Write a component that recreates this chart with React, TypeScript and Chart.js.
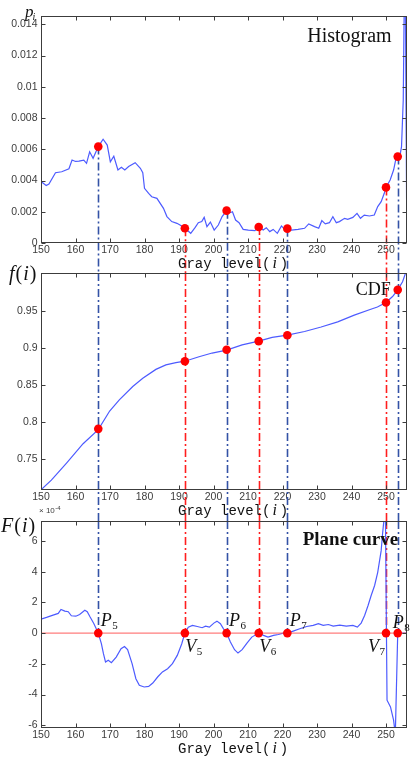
import React, { useEffect, useRef } from "react";
import { Chart, registerables } from "chart.js";

Chart.register(...registerables);

// ---------------- data ----------------
const X_MIN = 150;
const X_MAX = 256;
const xTicks = [150, 160, 170, 180, 190, 200, 210, 220, 230, 240, 250];

// Histogram p_i
const histX = [
  150, 151.5, 152.3, 154.2, 156, 158.1, 159, 160, 161, 162.4, 163.2, 164.1, 165.1, 166.6, 168, 169.2,
  170.1, 171.1, 172.3, 173.3, 174.3, 175.4, 177.3, 178.8, 179.5, 180, 181.2, 182.1, 183.6, 185.5, 186.5,
  187.9, 189.4, 190.3, 191.7, 192.3, 193.4, 194.7, 195.6, 196.6, 197.3, 198.1, 199.1, 200.2, 201.4, 202.5,
  203.8, 204.8, 205.5, 206.4, 207.4, 208.6, 210.1, 212, 213.1, 214.4, 215.3, 216.3, 217.3, 218.5, 219.7,
  220.6, 221.4, 222.6, 224.5, 226.4, 227.6, 229.3, 230.5, 231.4, 232.4, 233.6, 234.6, 235.6, 236.5, 238,
  238.9, 240.4, 241.6, 242.6, 243.7, 245.2, 246.6, 247.6, 248.6, 249.5, 250, 251.2, 252.2, 252.9, 253.4,
  254, 254.5, 255, 255.5, 256,
];
const histY = [
  0.00393, 0.00368, 0.00378, 0.0045, 0.00456, 0.00475, 0.00531, 0.00522, 0.00524, 0.00531, 0.0051, 0.00584,
  0.00542, 0.00617, 0.00664, 0.00627, 0.0052, 0.00555, 0.00467, 0.00485, 0.00467, 0.00489, 0.00514, 0.00478,
  0.0045, 0.0035, 0.00318, 0.00296, 0.00286, 0.00222, 0.00169, 0.00137, 0.00126, 0.00115, 0.00094, 0.00083,
  0.00062, 0.001, 0.0013, 0.00137, 0.00164, 0.00105, 0.00134, 0.00083, 0.00115, 0.00169, 0.00207, 0.00194,
  0.002, 0.00147, 0.0013, 0.00087, 0.00083, 0.00079, 0.00102, 0.00083, 0.00098, 0.00073, 0.00087, 0.00062,
  0.00109, 0.00087, 0.00092, 0.00083, 0.00087, 0.00094, 0.00122, 0.00105, 0.00094, 0.00143, 0.00122, 0.0013,
  0.00169, 0.0013, 0.00137, 0.00158, 0.00152, 0.00164, 0.0019, 0.00158, 0.00179, 0.00173, 0.00179, 0.00233,
  0.00265, 0.00318, 0.00356, 0.00403, 0.00467, 0.00542, 0.00553, 0.00553, 0.00617, 0.00915, 0.02, 0.0015,
];
const histTicks = [0, 0.002, 0.004, 0.006, 0.008, 0.01, 0.012, 0.014];

// CDF f(i)
const cdfX = [
  150, 153, 157.4, 162.2, 166.6, 169.9, 172.7, 176.6, 179.5, 183.3, 186.2, 189.1, 191.7, 195.8, 199.6,
  203.8, 208.3, 213.1, 217, 221.4, 226.4, 231.2, 236, 240.8, 245.6, 247.5, 250, 251.9, 253.4, 254.8, 256,
];
const cdfY = [
  0.709, 0.722, 0.745, 0.771, 0.79, 0.815, 0.83, 0.848, 0.859, 0.871, 0.877, 0.88, 0.882, 0.888, 0.893,
  0.897, 0.904, 0.909, 0.914, 0.917, 0.922, 0.928, 0.935, 0.944, 0.952, 0.955, 0.961, 0.969, 0.978, 0.989,
  1.005,
];
const cdfTicks = [0.75, 0.8, 0.85, 0.9, 0.95];

// Plane curve F(i) (x 10^-4)
const planeX = [
  150, 151.6, 153.5, 155, 155.8, 156.9, 157.9, 158.8, 160.1, 161.2, 162.7, 163.4, 164.2, 165.3, 166.6,
  167.5, 168.1, 168.7, 169.5, 170.4, 171.8, 173.2, 174.2, 175.1, 176.4, 177.5, 178.5, 179.9, 181.2, 182.4,
  183.8, 185.2, 186.7, 188.1, 189.5, 190.8, 191.7, 192.7, 193.9, 195.3, 196.7, 197.7, 198.8, 200.1, 201,
  202, 202.9, 203.8, 204.9, 206.1, 207.1, 208.3, 209.7, 211.1, 213.1, 214.5, 215.8, 217.4, 218.8, 220.2,
  221.4, 223.1, 225, 227, 228.9, 230.4, 231.8, 233.3, 234.7, 236.6, 238.5, 240.4, 241.7, 242.8, 243.8,
  244.8, 245.7, 246.7, 247.6, 248.6, 249, 249.5, 249.8, 250.3, 251.3, 252.2, 252.7, 253.4, 256,
];
const planeY = [
  0.91, 1.02, 1.17, 1.28, 1.54, 1.43, 1.39, 1.13, 1.1, 1.21, 1.49, 1.39, 1.06, 0.63, 0, -0.69, -1.34, -1.88,
  -1.77, -1.93, -1.56, -1.02, -0.87, -1.08, -1.99, -2.97, -3.4, -3.51, -3.47, -3.25, -2.86, -2.53, -2.32,
  -1.99, -1.45, -0.69, 0, 0.39, 0.5, 0.43, 0.35, 0.45, 0.39, 0.65, 0.78, 0.61, 0.28, 0, -0.58, -1.08, -1.3,
  -1.08, -0.65, -0.26, 0, -0.15, -0.26, -0.15, -0.09, 0, 0, 0.13, 0.28, 0.43, 0.5, 0.61, 0.5, 0.56, 0.45,
  0.52, 0.45, 0.5, 0.39, 0.65, 1.15, 1.8, 2.45, 3.1, 3.96, 5.37, 6.45, 7.6, 8.6, -4.37, -4.81, -5.67, -6.6,
  0, 0,
];
const planeTicks = [-6, -4, -2, 0, 2, 4, 6];

// Key gray levels (peaks P / valleys V)
const keyX = [166.6, 191.7, 203.8, 213.1, 221.4, 250.0, 253.4];
const keyHist = [0.00617, 0.00094, 0.00207, 0.00102, 0.00092, 0.00356, 0.00553];
const keyCdf = [0.791, 0.882, 0.8975, 0.909, 0.917, 0.961, 0.978];
const keyPlane = [0, 0, 0, 0, 0, 0, 0];
const keyLetter = ["P", "V", "P", "V", "P", "V", "P"];
const keySub = ["5", "5", "6", "6", "7", "7", "8"];

// ---------------- layout / style ----------------
const W = 411;
const H = 760;
const PLOT_LEFT = 41;
const PLOT_RIGHT = 408.5;
const XAXIS_H = 20;
const PANELS = [
  { top: 16, bottom: 243, yMin: 0, yMax: 0.01453 },
  { top: 273, bottom: 490, yMin: 0.7087, yMax: 1.0007 },
  { top: 521, bottom: 728, yMin: -6.18, yMax: 7.3 },
];

const SERIF = '"Liberation Serif", "Times New Roman", serif';
const SANS = '"Liberation Sans", Arial, sans-serif';
const MONO = '"Liberation Mono", "Courier New", monospace';
const AXIS_COLOR = "#3c3c3c";
const TICK_COLOR = "#3c3c3c";
const CURVE_COLOR = "#4d5bff";
const DOT_COLOR = "#ff0000";
const BLUE_DASH = "#3352a6";
const RED_DASH = "#ff1e1e";

type Part = { t: string; font: string; dx?: number; dy?: number };

function drawParts(ctx: CanvasRenderingContext2D, parts: Part[], x: number, y: number) {
  let cx = x;
  for (const p of parts) {
    ctx.font = p.font;
    const dx = p.dx || 0;
    ctx.fillText(p.t, cx + dx, y + (p.dy || 0));
    cx += dx + ctx.measureText(p.t).width;
  }
}

function makeChart(canvas: HTMLCanvasElement, idx: number) {
  const panel = PANELS[idx];
  const curveX = idx === 0 ? histX : idx === 1 ? cdfX : planeX;
  const curveY = idx === 0 ? histY : idx === 1 ? cdfY : planeY;
  const keyY = idx === 0 ? keyHist : idx === 1 ? keyCdf : keyPlane;
  const yTicks = idx === 0 ? histTicks : idx === 1 ? cdfTicks : planeTicks;

  const datasets: any[] = [
    {
      data: keyX.map((x, i) => ({ x, y: keyY[i] })),
      backgroundColor: DOT_COLOR,
      borderWidth: 0,
      pointRadius: 4.3,
      showLine: false,
    },
  ];
  if (idx === 2) {
    datasets.push({
      data: [
        { x: X_MIN, y: 0 },
        { x: X_MAX, y: 0 },
      ],
      borderColor: "#ff5c5c",
      borderWidth: 1,
      pointRadius: 0,
      showLine: true,
    });
  }
  datasets.push({
    data: curveX.map((x, i) => ({ x, y: curveY[i] })),
    borderColor: CURVE_COLOR,
    borderWidth: 1.2,
    pointRadius: 0,
    showLine: true,
    tension: 0,
  });

  const deco = {
    id: "deco" + idx,
    beforeDatasetsDraw(chart: any) {
      const ctx = chart.ctx as CanvasRenderingContext2D;
      const xs = chart.scales.x;
      const ys = chart.scales.y;
      ctx.save();
      ctx.lineWidth = 1.6;
      ctx.setLineDash([8, 3, 2, 3]);
      keyX.forEach((kx, i) => {
        const px = Math.round(xs.getPixelForValue(kx)) + 0.5;
        let y0: number;
        let y1: number;
        if (idx === 0) {
          y0 = ys.getPixelForValue(keyHist[i]);
          y1 = PANELS[1].top;
        } else if (idx === 1) {
          y0 = PANELS[1].top;
          y1 = PANELS[2].top;
        } else {
          y0 = PANELS[2].top;
          y1 = ys.getPixelForValue(0);
        }
        ctx.strokeStyle = keyLetter[i] === "P" ? BLUE_DASH : RED_DASH;
        ctx.beginPath();
        ctx.moveTo(px, y0);
        ctx.lineTo(px, y1);
        ctx.stroke();
      });
      ctx.restore();
    },
    afterDraw(chart: any) {
      const ctx = chart.ctx as CanvasRenderingContext2D;
      const a = chart.chartArea;
      const xs = chart.scales.x;
      const ys = chart.scales.y;
      ctx.save();
      // frame
      ctx.strokeStyle = AXIS_COLOR;
      ctx.lineWidth = 1;
      ctx.setLineDash([]);
      const L = Math.round(a.left) + 0.5;
      const R = Math.round(a.right) - 0.5;
      const T = Math.round(a.top) + 0.5;
      const B = Math.round(a.bottom) - 0.5;
      ctx.strokeRect(L, T, R - L, B - T);
      // inward ticks
      ctx.beginPath();
      xTicks.forEach((v) => {
        const px = Math.round(xs.getPixelForValue(v)) + 0.5;
        ctx.moveTo(px, B);
        ctx.lineTo(px, B - 4);
        ctx.moveTo(px, T);
        ctx.lineTo(px, T + 4);
      });
      yTicks.forEach((v) => {
        const py = Math.round(ys.getPixelForValue(v)) + 0.5;
        ctx.moveTo(L, py);
        ctx.lineTo(L + 4, py);
        ctx.moveTo(R, py);
        ctx.lineTo(R - 4, py);
      });
      ctx.stroke();

      // x-axis title "Gray level(i)"
      ctx.fillStyle = "#111";
      ctx.textBaseline = "alphabetic";
      ctx.textAlign = "left";
      drawParts(
        ctx,
        [
          { t: "Gray level(", font: `14px ${MONO}` },
          { t: "i", font: `italic 16px ${SERIF}`, dx: 2 },
          { t: ")", font: `14px ${MONO}`, dx: 3 },
        ],
        a.left + 137,
        a.bottom + 25
      );

      // y-axis labels and panel captions
      if (idx === 0) {
        drawParts(ctx, [{ t: "p", font: `italic 17px ${SERIF}` }], 25, a.top + 1);
        drawParts(ctx, [{ t: "i", font: `italic 10px ${SERIF}` }], 32.5, a.top + 4);
        ctx.font = `20px ${SERIF}`;
        ctx.fillText("Histogram", a.right - 99.5, a.top + 26);
      } else if (idx === 1) {
        drawParts(
          ctx,
          [
            { t: "f", font: `italic 20px ${SERIF}` },
            { t: "(", font: `20px ${SERIF}`, dx: 1 },
            { t: "i", font: `italic 20px ${SERIF}`, dx: 1 },
            { t: ")", font: `20px ${SERIF}`, dx: 1 },
          ],
          9,
          a.top + 7
        );
        ctx.font = `18px ${SERIF}`;
        ctx.textAlign = "right";
        ctx.fillText("CDF", a.right - 16, a.top + 22);
        ctx.textAlign = "left";
      } else {
        drawParts(
          ctx,
          [
            { t: "F", font: `italic 20px ${SERIF}` },
            { t: "(", font: `20px ${SERIF}`, dx: 1 },
            { t: "i", font: `italic 20px ${SERIF}`, dx: 1 },
            { t: ")", font: `20px ${SERIF}`, dx: 1 },
          ],
          1,
          a.top + 11
        );
        ctx.fillStyle = TICK_COLOR;
        drawParts(
          ctx,
          [
            { t: "\u00d7 10", font: `8px ${SANS}` },
            { t: "-4", font: `6px ${SANS}`, dx: 0.5, dy: -3 },
          ],
          39,
          a.top - 8
        );
        ctx.fillStyle = "#111";
        ctx.font = `bold 19px ${SERIF}`;
        ctx.fillText("Plane curve", a.right - 104, a.top + 24);

        // P/V labels
        const zy = ys.getPixelForValue(0);
        keyX.forEach((kx, i) => {
          const px = xs.getPixelForValue(kx);
          const isP = keyLetter[i] === "P";
          const last = i >= 5;
          let lx: number;
          let by: number;
          if (isP) {
            lx = last ? px - 5 : px + 2.5;
            by = last ? zy - 5 : zy - 7;
          } else {
            lx = last ? px - 18 : px + 0.5;
            by = zy + 19;
          }
          drawParts(
            ctx,
            [
              { t: keyLetter[i], font: `italic 18px ${SERIF}` },
              { t: keySub[i], font: `11px ${SERIF}`, dx: 0.5, dy: 3 },
            ],
            lx,
            by
          );
        });
      }
      ctx.restore();
    },
  };

  return new Chart(canvas, {
    type: "scatter",
    data: { datasets },
    options: {
      responsive: false,
      animation: false,
      devicePixelRatio: 1,
      events: [],
      layout: {
        padding: {
          top: panel.top,
          bottom: H - panel.bottom - XAXIS_H,
          left: 0,
          right: W - PLOT_RIGHT,
        },
      },
      plugins: {
        legend: { display: false },
        tooltip: { enabled: false },
        title: { display: false },
      },
      scales: {
        x: {
          type: "linear",
          min: X_MIN,
          max: X_MAX,
          grid: { display: false, drawTicks: false },
          border: { display: false },
          ticks: {
            autoSkip: false,
            maxRotation: 0,
            padding: 1,
            color: TICK_COLOR,
            font: { family: SANS, size: 10.5 },
            callback: (v: any) => String(v),
          },
          afterBuildTicks: (s: any) => {
            s.ticks = xTicks.map((v) => ({ value: v }));
          },
          afterFit: (s: any) => {
            s.height = XAXIS_H;
          },
        },
        y: {
          type: "linear",
          min: panel.yMin,
          max: panel.yMax,
          grid: { display: false, drawTicks: false },
          border: { display: false },
          ticks: {
            autoSkip: false,
            padding: 3.5,
            color: TICK_COLOR,
            font: { family: SANS, size: 10.5 },
            callback: (v: any) => String(v),
          },
          afterBuildTicks: (s: any) => {
            s.ticks = yTicks.map((v) => ({ value: v }));
          },
          afterFit: (s: any) => {
            s.width = PLOT_LEFT;
          },
        },
      },
    } as any,
    plugins: [deco],
  } as any);
}

export default function App() {
  const r0 = useRef<HTMLCanvasElement>(null);
  const r1 = useRef<HTMLCanvasElement>(null);
  const r2 = useRef<HTMLCanvasElement>(null);

  useEffect(() => {
    const refs = [r0, r1, r2];
    const charts = refs.map((r, i) => makeChart(r.current as HTMLCanvasElement, i));
    return () => {
      charts.forEach((c) => c.destroy());
    };
  }, []);

  const style: React.CSSProperties = { position: "absolute", left: 0, top: 0, width: W, height: H };
  return (
    <div style={{ position: "absolute", left: 0, top: 0, width: W, height: H, background: "#fff" }}>
      <canvas ref={r0} width={W} height={H} style={style} />
      <canvas ref={r1} width={W} height={H} style={style} />
      <canvas ref={r2} width={W} height={H} style={style} />
    </div>
  );
}
